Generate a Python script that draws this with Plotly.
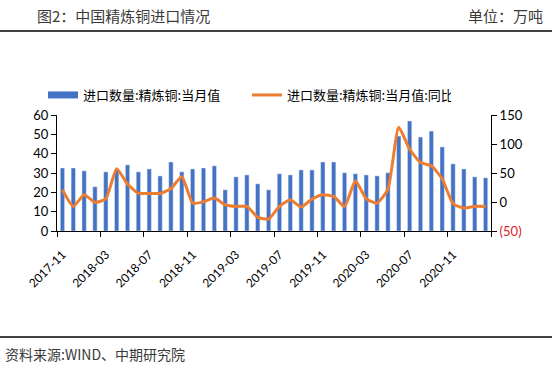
import plotly.graph_objects as go

# ---- data ----
months = []
y, m = 2017, 11
for _ in range(40):
    months.append(f"{y}-{m:02d}")
    m += 1
    if m > 12:
        m = 1
        y += 1

import_volume = [32.6, 32.6, 31.1, 22.9, 30.6, 31.6, 34.2, 30.6, 32.1, 28.5,
                 35.7, 30.6, 32.1, 32.6, 33.7, 21.3, 28.0, 29.0, 24.4, 21.3,
                 29.6, 29.0, 31.6, 31.6, 35.7, 35.7, 30.1, 29.6, 29.0, 28.5,
                 30.1, 49.1, 56.9, 48.6, 51.7, 43.5, 34.7, 32.1, 28.0, 27.5]

import_yoy = [21.1, -7.6, 12.5, -0.7, 5.6, 57.2, 30.8, 15.3, 14.8, 14.8,
              22.8, 44.1, -1.9, 0.4, 6.7, -4.7, -7.6, -7.6, -26.5, -29.4,
              -7.6, 3.9, -8.5, 5.0, 12.5, 9.6, -7.6, 36.5, 5.6, -1.9,
              22.2, 128.8, 91.0, 68.1, 62.3, 40.0, -3.0, -10.5, -7.6, -7.6]

bar_name = "进口数量:精炼铜:当月值"
line_name = "进口数量:精炼铜:当月值:同比"
right_tickvals = [-50, 0, 50, 100, 150]
right_ticktext = ["<span style='color:#E0202A'>(50)</span>", "0", "50", "100", "150"]

BLUE = "#4472C4"
ORANGE = "#ED7D31"
FONT = "Lato, Noto Sans CJK SC, sans-serif"
CJK = "Noto Sans CJK SC, sans-serif"

W, H = 552, 373
L, R, T, B = 57, 61, 115, 142
PW, PH = W - L - R, H - T - B

def px(xp):
    return (xp - L) / PW

def py(yp):
    return (H - B - yp) / PH

fig = go.Figure()
fig.add_trace(go.Bar(x=months, y=import_volume, name=bar_name, marker_color=BLUE,
                     showlegend=False, yaxis="y"))
# legend-only entry with a wide rectangle key, like the reference
fig.add_trace(go.Scatter(x=[None], y=[None], mode="lines", name=bar_name,
                         line=dict(color=BLUE, width=7), yaxis="y"))
fig.add_trace(go.Scatter(x=months, y=import_yoy, name=line_name, mode="lines",
                         line=dict(color=ORANGE, width=3, shape="spline", smoothing=0.5),
                         yaxis="y2"))

fig.update_layout(
    width=W, height=H,
    margin=dict(l=L, r=R, t=T, b=B, pad=0, autoexpand=False),
    paper_bgcolor="white", plot_bgcolor="white",
    font=dict(family=FONT, size=13, color="#000000"),
    bargap=0.6,
    showlegend=True,
    hovermode=False,
    legend=dict(orientation="h", x=px(43), xanchor="left", y=py(95), yanchor="middle",
                font=dict(family=CJK, size=13, color="#000000"),
                itemwidth=30, entrywidth=159, bgcolor="rgba(0,0,0,0)"),
    xaxis=dict(type="category", showline=True, linecolor="#000000", linewidth=1,
               ticks="outside", ticklen=5, tickcolor="#000000", tickson="boundaries",
               tickmode="linear", tick0=0, dtick=4, tickangle=-45,
               ticklabelstandoff=11,
               showgrid=False, zeroline=False,
               tickfont=dict(family=FONT, size=12, color="#000000"),
               range=[-0.5, len(months) - 0.5]),
    yaxis=dict(range=[0, 60], dtick=10, showline=True, linecolor="#000000", linewidth=1,
               ticks="outside", ticklen=5, tickcolor="#000000", showgrid=False,
               zeroline=False, tickfont=dict(family=FONT, size=13, color="#000000")),
    yaxis2=dict(range=[-50, 150], overlaying="y", side="right", tickmode="array",
                tickvals=right_tickvals, ticktext=right_ticktext,
                showline=True, linecolor="#000000", linewidth=1,
                ticks="outside", ticklen=5, tickcolor="#000000", showgrid=False,
                zeroline=False, tickfont=dict(family=FONT, size=13, color="#000000")),
    shapes=[
        dict(type="line", xref="paper", yref="paper", x0=px(0), x1=px(W), y0=py(31), y1=py(31),
             line=dict(color="#000000", width=1.5)),
        dict(type="line", xref="paper", yref="paper", x0=px(0), x1=px(W), y0=py(337), y1=py(337),
             line=dict(color="#000000", width=1.5)),
    ],
    annotations=[
        dict(text="图2：中国精炼铜进口情况", xref="paper", yref="paper", x=px(35), y=py(15),
             xanchor="left", yanchor="middle", showarrow=False,
             font=dict(family=CJK, size=15, color="#3A3A3A")),
        dict(text="单位：万吨", xref="paper", yref="paper", x=px(545), y=py(15),
             xanchor="right", yanchor="middle", showarrow=False,
             font=dict(family=CJK, size=15, color="#3A3A3A")),
        dict(text="资料来源:WIND、中期研究院", xref="paper", yref="paper", x=px(3), y=py(354),
             xanchor="left", yanchor="middle", showarrow=False,
             font=dict(family=CJK, size=14, color="#3A3A3A")),
    ],
)

fig.write_html("out.html", config={"displayModeBar": False},
               post_script="document.body.style.margin='0';document.body.style.overflow='hidden';")
